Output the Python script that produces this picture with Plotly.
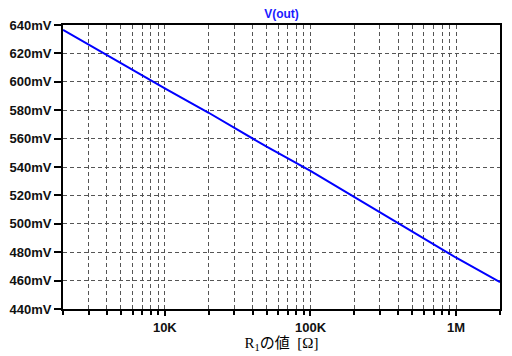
import plotly.graph_objects as go

# Data
r1_ohm = [2e3, 5e3, 1e4, 2e4, 5e4, 1e5, 2e5, 3e5, 5e5, 1e6, 2e6]
vout_mv = [636.5, 613.0, 595.3, 578.2, 554.3, 537.2, 518.8, 508.6, 494.6, 476.1, 458.9]

y_ticks = [440, 460, 480, 500, 520, 540, 560, 580, 600, 620, 640]
y_labels = [f"<b>{v}mV</b>" for v in y_ticks]

x_major = [1e4, 1e5, 1e6]
x_labels = ["<b>10K</b>", "<b>100K</b>", "<b>1M</b>"]
x_minor = [m * 10 ** e for e in (3, 4, 5, 6) for m in range(2, 10)]
x_minor = [v for v in x_minor if 2e3 <= v <= 2e6]

fig = go.Figure()
fig.add_trace(go.Scatter(x=r1_ohm, y=vout_mv, mode="lines",
                         line=dict(color="#0000FF", width=2), showlegend=False))

fig.update_layout(
    width=512, height=356,
    margin=dict(l=63, r=12, t=25, b=47, autoexpand=False),
    paper_bgcolor="white", plot_bgcolor="white",
    title=dict(text="<b>V(out)</b>", x=0.5, xref="paper", xanchor="center",
               y=1 - 14 / 356, yref="container", yanchor="middle", automargin=False,
               font=dict(family="Liberation Sans, Arial", size=12, color="#1a1aff")),
    font=dict(family="Liberation Sans, Arial", color="black"),
)

grid = dict(gridcolor="#555555", griddash="4px,3px", gridwidth=1)
fig.update_xaxes(
    type="log", range=[3.30103, 6.30103], automargin=False,
    tickvals=x_major, ticktext=x_labels,
    tickfont=dict(family="Liberation Sans, Arial", size=13, color="#111"),
    ticks="outside", ticklen=5, tickwidth=2, tickcolor="black",
    showgrid=True, **grid,
    minor=dict(tickvals=x_minor, ticks="outside", ticklen=4, tickwidth=2,
               tickcolor="black", showgrid=True, **grid),
    showline=True, linecolor="black", linewidth=2, mirror=True,
    zeroline=False,
    title=dict(text="R<sub>1</sub>の値  [Ω]", standoff=2,
               font=dict(family="Liberation Serif, Noto Sans CJK JP", size=15, color="black")),
)
fig.update_yaxes(
    range=[440, 640], automargin=False,
    tickvals=y_ticks, ticktext=y_labels,
    tickfont=dict(family="Liberation Sans, Arial", size=13, color="#111"),
    ticks="outside", ticklen=7, tickwidth=2, tickcolor="black",
    showgrid=True, **grid,
    showline=True, linecolor="black", linewidth=2, mirror=True,
    zeroline=False,
)

fig.write_html("out.html", config={"displayModeBar": False},
               post_script="document.body.style.margin='0';")
